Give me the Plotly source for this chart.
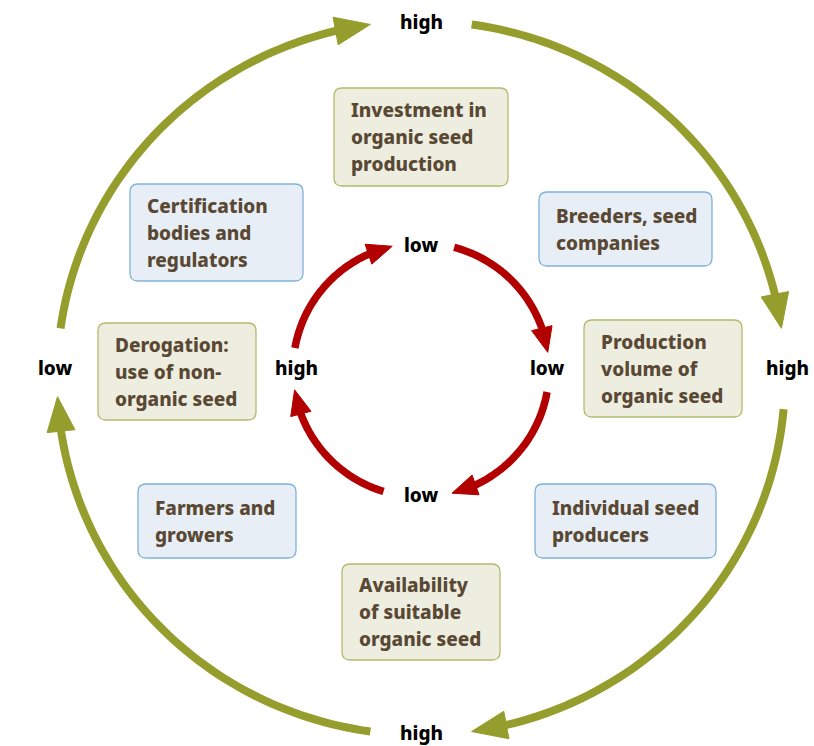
import math
import plotly.graph_objects as go

# ---------------- data ----------------
box_texts = [
    "Investment in<br>organic seed<br>production",
    "Breeders, seed<br>companies",
    "Production<br>volume of<br>organic seed",
    "Individual seed<br>producers",
    "Availability<br>of suitable<br>organic seed",
    "Farmers and<br>growers",
    "Derogation:<br>use of non-<br>organic seed",
    "Certification<br>bodies and<br>regulators",
]
box_kinds = ["green", "blue", "green", "blue", "green", "blue", "green", "blue"]

outer_labels = ["high", "high", "high", "low"]      # top, right, bottom, left
inner_labels = ["low", "low", "low", "high"]        # top, right, bottom, left

# ---------------- layout geometry ----------------
W, H = 814, 746
box_rects = [  # x0, y0, x1, y1 (pixel space)
    (334, 88, 508, 186),
    (539, 192, 712, 266),
    (584, 320, 742, 417),
    (535, 484, 716, 558),
    (342, 564, 500, 660),
    (138, 484, 296, 558),
    (98, 323, 256, 420),
    (130, 184, 303, 281),
]
box_style = {
    "green": dict(fill="#edede0", line="#b3bb6c"),
    "blue": dict(fill="#e8eef5", line="#7fb2d9"),
}
text_color = "#594833"
FONT = "Noto Sans"
BOX_FS = 19
LINE_GAP = 27

outer = dict(cx=421, cy=378, rx=364, ry=357, color="#959d2d", width=8, L=35, Wd=28,
             arcs=[(188, 262), (278, 352), (365, 442), (458, 537)],
             label_pos=[(421, 22), (787, 368), (421, 733), (55, 368)])
inner = dict(cx=421, cy=370, rx=128, ry=127, color="#b20000", width=7.5, L=25, Wd=21,
             arcs=[(190, 257), (285, 352), (370, 436), (467, 531)],
             label_pos=[(421, 245), (547, 368), (421, 495), (296, 368)])


def pt(g, deg):
    a = math.radians(deg)
    return g["cx"] + g["rx"] * math.cos(a), g["cy"] + g["ry"] * math.sin(a)


def rounded_rect(x0, y0, x1, y1, r=8):
    return (f"M{x0+r},{y0} L{x1-r},{y0} Q{x1},{y0} {x1},{y0+r} "
            f"L{x1},{y1-r} Q{x1},{y1} {x1-r},{y1} L{x0+r},{y1} "
            f"Q{x0},{y1} {x0},{y1-r} L{x0},{y0+r} Q{x0},{y0} {x0+r},{y0} Z")


shapes = []
annotations = []


def add_ring(g):
    rmean = (g["rx"] + g["ry"]) / 2
    for a0, a1 in g["arcs"]:
        tip = pt(g, a1)
        a_base = a1 - math.degrees(g["L"] / rmean)
        base = pt(g, a_base)
        n = 60
        a_end = a_base + 1.0
        pts = [pt(g, a0 + (a_end - a0) * i / n) for i in range(n + 1)]
        path = "M" + " L".join(f"{x:.2f},{y:.2f}" for x, y in pts)
        shapes.append(dict(type="path", path=path, xref="x", yref="y",
                           line=dict(color=g["color"], width=g["width"]),
                           layer="above"))
        dx, dy = tip[0] - base[0], tip[1] - base[1]
        d = math.hypot(dx, dy)
        px, py = -dy / d, dx / d
        hw = g["Wd"] / 2
        c1 = (base[0] + px * hw, base[1] + py * hw)
        c2 = (base[0] - px * hw, base[1] - py * hw)
        tri = f"M{tip[0]:.2f},{tip[1]:.2f} L{c1[0]:.2f},{c1[1]:.2f} L{c2[0]:.2f},{c2[1]:.2f} Z"
        shapes.append(dict(type="path", path=tri, xref="x", yref="y",
                           fillcolor=g["color"], line=dict(color=g["color"], width=1),
                           layer="above"))


add_ring(outer)
add_ring(inner)

for (x, y), t in zip(outer["label_pos"] + inner["label_pos"], outer_labels + inner_labels):
    annotations.append(dict(x=x, y=y, xref="x", yref="y", text=t,
                            showarrow=False, yanchor="middle",
                            font=dict(family=FONT, size=19, color="#000000", weight=800)))

for (x0, y0, x1, y1), t, k in zip(box_rects, box_texts, box_kinds):
    st = box_style[k]
    shapes.append(dict(type="path", path=rounded_rect(x0, y0, x1, y1), xref="x", yref="y",
                       fillcolor=st["fill"], line=dict(color=st["line"], width=1.3),
                       layer="below"))
    lines = t.split("<br>")
    yc = (y0 + y1) / 2
    for i, ln in enumerate(lines):
        yy = yc + (i - (len(lines) - 1) / 2) * LINE_GAP
        annotations.append(dict(x=x0 + 15, y=yy, xref="x", yref="y",
                                text=ln, showarrow=False, xanchor="left",
                                yanchor="middle", align="left",
                                font=dict(family=FONT, size=BOX_FS, color=text_color,
                                          weight=800)))

fig = go.Figure()
fig.add_trace(go.Scatter(x=[0, W], y=[0, H], mode="markers",
                         marker=dict(opacity=0), hoverinfo="skip", showlegend=False))
fig.update_layout(
    width=W, height=H, margin=dict(l=0, r=0, t=0, b=0),
    paper_bgcolor="white", plot_bgcolor="white",
    xaxis=dict(range=[0, W], visible=False, fixedrange=True),
    yaxis=dict(range=[H, 0], visible=False, fixedrange=True),
    shapes=shapes, annotations=annotations, showlegend=False,
)
fig.write_html("out.html", config={"displayModeBar": False},
               post_script="document.body.style.margin='0';document.body.style.overflow='hidden';")
